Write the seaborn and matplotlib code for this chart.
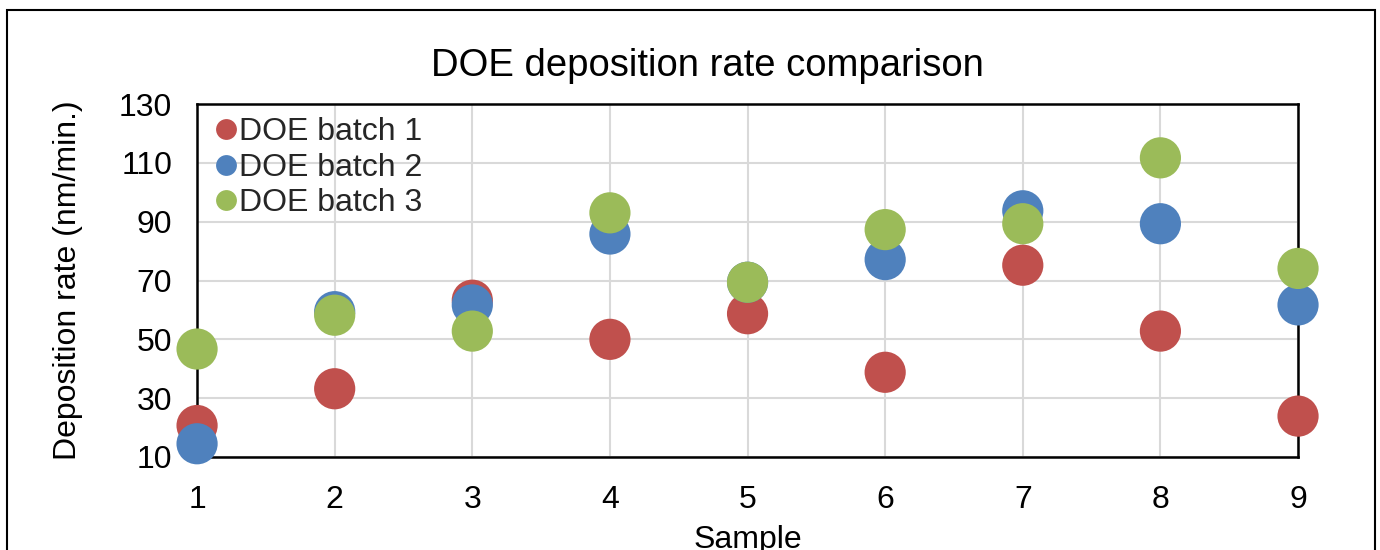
import matplotlib
matplotlib.use("Agg")
import matplotlib.pyplot as plt
import seaborn as sns
import pandas as pd
from matplotlib.patches import Rectangle

samples = [1, 2, 3, 4, 5, 6, 7, 8, 9]
batch1 = [20.7, 33.2, 63.3, 50.0, 58.7, 38.8, 75.2, 52.8, 23.9]
batch2 = [14.5, 59.4, 61.7, 85.8, 69.4, 77.1, 93.7, 89.3, 61.7]
batch3 = [46.7, 58.2, 52.8, 93.0, 69.4, 87.3, 89.3, 111.7, 74.1]
series_names = ["DOE batch 1", "DOE batch 2", "DOE batch 3"]
y_ticks = [10, 30, 50, 70, 90, 110, 130]

frames = []
for name, vals in zip(series_names, [batch1, batch2, batch3]):
    frames.append(pd.DataFrame({"Sample": samples, "Rate": vals, "Batch": name}))
df = pd.concat(frames, ignore_index=True)

sns.set_theme(style="white")
plt.rcParams["font.family"] = ["Liberation Sans", "DejaVu Sans"]

fig = plt.figure(figsize=(13.8, 5.5), dpi=100)
ax = fig.add_axes([0.1428, 0.1691, 0.7978, 0.6418])

palette = {"DOE batch 1": "#C0504D", "DOE batch 2": "#4F81BD", "DOE batch 3": "#9BBB59"}
sns.scatterplot(data=df, x="Sample", y="Rate", hue="Batch", palette=palette,
                s=880, linewidth=0, alpha=1, ax=ax, zorder=3, clip_on=False)

ax.set_xlim(1, 9)
ax.set_ylim(10, 130)
ax.set_xticks(samples)
ax.set_yticks(y_ticks)
ax.grid(True, color="#D9D9D9", linewidth=1.5, zorder=0)
ax.set_axisbelow(True)
for sp in ax.spines.values():
    sp.set_color("black")
    sp.set_linewidth(1.8)
    sp.set_zorder(2)
ax.tick_params(axis="both", length=0, labelsize=23, labelcolor="black")
ax.tick_params(axis="x", pad=20.5)
ax.tick_params(axis="y", pad=18)

ax.set_xlabel("Sample", fontsize=23, color="black", labelpad=7)
ax.set_ylabel("Deposition rate (nm/min.)", fontsize=23, color="black", labelpad=26)
fig.text(0.5125, 0.88, "DOE deposition rate comparison", ha="center", va="center",
         fontsize=27.5, color="black")

leg = ax.legend(loc="upper left", frameon=False, fontsize=23,
                handletextpad=-0.1, borderaxespad=0.1, labelspacing=0.17,
                borderpad=0.32, handlelength=1.0)
for h in leg.legend_handles:
    h.set_markersize(15)

fig.patches.append(Rectangle((7 / 1380, -0.05), (1375 - 7) / 1380, 1 - 10 / 550 + 0.05,
                             transform=fig.transFigure, fill=False,
                             edgecolor="black", linewidth=1.5))

fig.savefig("out.png", dpi=100)
